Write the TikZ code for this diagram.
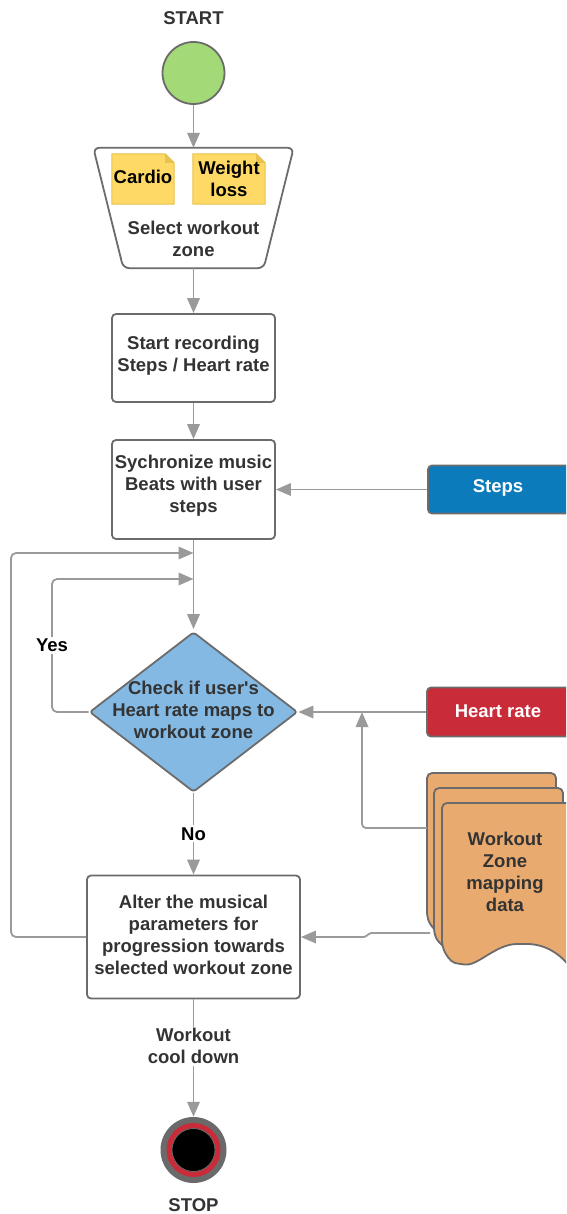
\documentclass[tikz,border=0pt]{standalone}
\usepackage{fontspec}
\setmainfont{Liberation Sans}
\usetikzlibrary{arrows.meta,shapes.geometric}
\definecolor{linegray}{HTML}{9A9A9A}
\definecolor{boxgray}{HTML}{6B6B6B}
\definecolor{txt}{HTML}{333333}
\definecolor{startgreen}{HTML}{A3D977}
\definecolor{noteyel}{HTML}{FFD966}
\definecolor{notefold}{HTML}{E8C24F}
\definecolor{stepsblue}{HTML}{0C7BBB}
\definecolor{heartred}{HTML}{C92B39}
\definecolor{chkblue}{HTML}{83B9E3}
\definecolor{dataorange}{HTML}{E9AA70}
\definecolor{stopgray}{HTML}{6A6A6A}
\tikzset{
  conn/.style={draw=linegray, line width=1.8pt},
  arr/.style={conn, -{Triangle[length=15pt,width=12.5pt]}},
  boxline/.style={draw=boxgray, line width=1.8pt},
  procbox/.style={boxline, rounded corners=4pt, fill=white, text=txt, align=center, inner sep=0pt},
  tagbox/.style={boxline, rounded corners=4pt, text=white, inner sep=0pt},
  lbl/.style={fill=white, inner sep=2pt, align=center},
  notebox/.style={minimum width=#1, minimum height=50pt, inner sep=0pt, text=black, align=center},
  sheet/.style={boxline, fill=dataorange, rounded corners=5pt}
}
\begin{document}
\begin{tikzpicture}[x=1pt,y=-1pt, font=\fontsize{18.5}{22}\selectfont\bfseries]
\useasboundingbox (0,0) rectangle (566,1214);
\clip (0,0) rectangle (566,1214);

% start
\node[text=txt] (startlbl) at (193.5,18) {START};
\node[circle, boxline, fill=startgreen, minimum size=62pt, inner sep=0pt] (start) at (193.5,73) {};

% select workout zone (inverted trapezoid)
\node[minimum width=200pt, minimum height=120pt, inner sep=0pt] (sel) at (193.5,208) {};
\draw[boxline, fill=white, rounded corners=6pt] (sel.north west) -- (sel.north east)
  -- ([xshift=-30pt]sel.south east) -- ([xshift=30pt]sel.south west) -- cycle;
\node[text=txt, align=center] (seltxt) at (193.5,239) {Select workout\\zone};

% notes
\node[notebox=62pt] (cardio) at (143,179) {};
\draw[draw=notefold, line width=1pt, fill=noteyel] (cardio.north west) -- ([xshift=-9pt]cardio.north east)
  -- ([yshift=-9pt]cardio.north east) -- (cardio.south east) -- (cardio.south west) -- cycle;
\fill[notefold] ([xshift=-9pt]cardio.north east) -- ([xshift=-9pt,yshift=-9pt]cardio.north east) -- ([yshift=-9pt]cardio.north east) -- cycle;
\node[text=black] at ([yshift=2pt]cardio.center) {Cardio};

\node[notebox=72pt] (weight) at (229,179) {};
\draw[draw=notefold, line width=1pt, fill=noteyel] (weight.north west) -- ([xshift=-9pt]weight.north east)
  -- ([yshift=-9pt]weight.north east) -- (weight.south east) -- (weight.south west) -- cycle;
\fill[notefold] ([xshift=-9pt]weight.north east) -- ([xshift=-9pt,yshift=-9pt]weight.north east) -- ([yshift=-9pt]weight.north east) -- cycle;
\node[text=black, align=center] at (weight.center) {Weight\\loss};

% process boxes
\node[procbox, minimum width=163pt, minimum height=88pt] (rec) at (193.5,358) {};
\node[text=txt, align=center] (rectxt) at (193.5,356) {Start recording\\Steps / Heart rate};
\node[procbox, minimum width=163pt, minimum height=99pt] (sync) at (193.5,489.5) {};
\node[text=txt, align=center] (synctxt) at (193.5,486) {Sychronize music\\Beats with user\\steps};

% tags
\node[tagbox, fill=stepsblue, minimum width=150pt, minimum height=48pt] (steps) at (503,489.5) {};
\node[text=white] at (498,488) {Steps};
\node[tagbox, fill=heartred, minimum width=150pt, minimum height=49pt] (heart) at (502,712) {};
\node[text=white] at (498,711) {Heart rate};

% decision
\node[diamond, boxline, fill=chkblue, minimum width=208pt, minimum height=160pt, inner sep=0pt, rounded corners=3pt] (chk) at (193.5,712) {};
\node[text=txt, align=center] (chktxt) at (193.5,710) {Check if user\textquotesingle s\\Heart rate maps to\\workout zone};

% alter box
\node[procbox, minimum width=213pt, minimum height=123pt] (alt) at (193.5,937) {};
\node[text=txt, align=center] (alttxt) at (193.5,935) {Alter the musical\\parameters for\\progression towards\\selected workout zone};

% data stack
\draw[sheet] (427,917) -- (427,773) -- (556,773) -- (556,940)
  .. controls (545,925) and (530,915) .. (507,915) .. controls (480,915) and (460,935) .. (442,934)
  .. controls (434,930) and (430,924) .. (427,917) -- cycle;
\draw[sheet] (434,933) -- (434,788) -- (563,788) -- (563,955)
  .. controls (552,940) and (537,930) .. (514,930) .. controls (487,930) and (467,950) .. (449,949)
  .. controls (441,945) and (437,940) .. (434,933) -- cycle;
\draw[sheet] (442,945) -- (442,803) -- (572,803) -- (572,970)
  .. controls (561,955) and (546,944) .. (522,944) .. controls (496,944) and (478,966) .. (460,964)
  .. controls (450,962) and (445,953) .. (442,945) -- cycle;
\node[text=txt, align=center] (data) at (505,872) {Workout\\Zone\\mapping\\data};
\coordinate (dataA) at (427,828);
\coordinate (dataB) at (430,933);

% stop
\node[circle, fill=stopgray, minimum size=66pt, inner sep=0pt] (stop) at (193.5,1150) {};
\fill[heartred] (stop.center) circle (27pt);
\filldraw[fill=black, draw=stopgray, line width=0.8pt] (stop.center) circle (21.5pt);
\node[text=txt] (stoplbl) at (193.5,1205) {STOP};

% connectors
\draw[arr] (start) -- (sel.north);
\draw[arr] (sel.south) -- (rec.north);
\draw[arr] (rec) -- (sync.north);
\draw[arr] (steps.west) -- (sync.east);
\draw[arr] (sync.south) -- ([yshift=2pt]chk.north);
\draw[arr] (heart.west) -- (chk.east);
\coordinate (hrJoin) at (362,712);
\draw[arr, rounded corners=4pt] (dataA) -| (hrJoin);
\draw[arr, rounded corners=2pt] (dataB) -- (369,933) -- (366,937) -- (alt.east);
\draw[arr] (chk.south) -- node[lbl, text=black] {No} (alt.north);
\coordinate (yesIn) at (193.5,579);
\coordinate (loopIn) at (193.5,553);
\draw[arr, rounded corners=5pt] (chk.west) -- (52,712) -- node[lbl, text=black, pos=0.5] {Yes} (52,579) -- (yesIn);
\draw[arr, rounded corners=5pt] (alt.west) -- (11,937) -- (11,553) -- (loopIn);
\draw[arr] (alt.south) -- node[lbl, text=txt, pos=0.4] {Workout\\cool down} (stop.north);
\end{tikzpicture}
\end{document}
